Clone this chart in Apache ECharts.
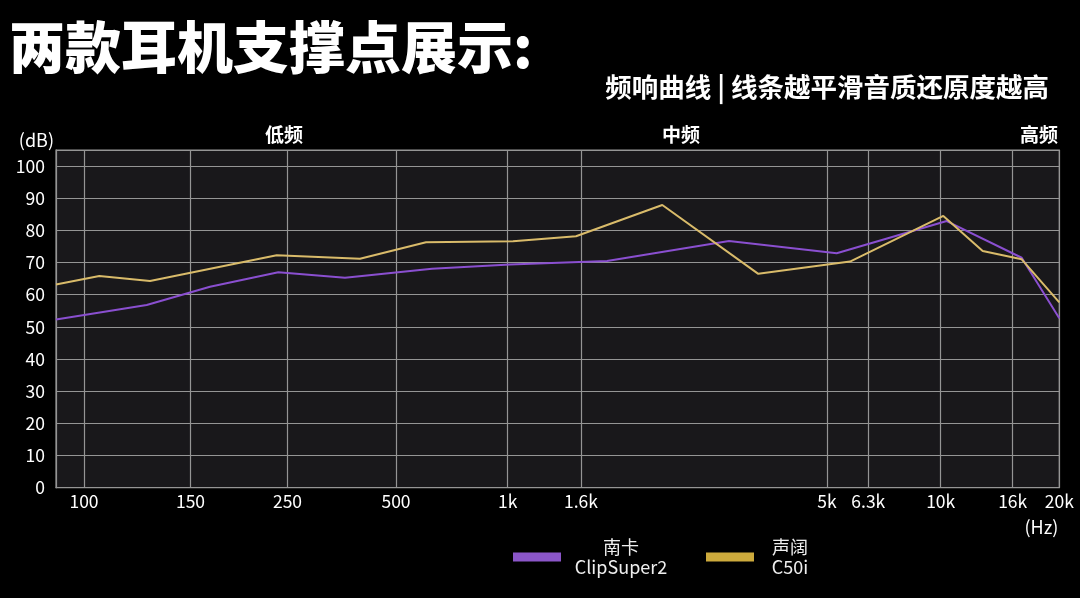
<!DOCTYPE html>
<html>
<head>
<meta charset="utf-8">
<script src="https://cdn.jsdelivr.net/npm/echarts@6/dist/echarts.min.js"></script>
<style>
  html, body { margin: 0; padding: 0; background: #000; }
  #chart { width: 1080px; height: 598px; }
</style>
</head>
<body>
<div id="chart"></div>
<script>
// ---- data ----
const xTickPos = [28, 134.5, 231.5, 340, 451.7, 525, 771, 812.3, 884.7, 956.7, 1003.3];
const xTickLabels = ['100', '150', '250', '500', '1k', '1.6k', '5k', '6.3k', '10k', '16k', '20k'];
const bandPos = [228, 625, 983];
const bandLabels = ['低频', '中频', '高频'];

const brands = ['南卡', '声阔'];
const models = ['ClipSuper2', 'C50i'];

const nankaX = [0, 90.7, 154, 222.3, 289, 376, 454, 551, 673, 780.7, 890.7, 965.7, 1003.3];
const nankaY = [52.3, 56.8, 62.5, 67.0, 65.3, 68.1, 69.4, 70.5, 76.7, 72.9, 82.9, 71.5, 52.7];
const shengkuoX = [0, 43.3, 94, 220.7, 304, 370, 457, 520, 606.3, 702.3, 794, 887.3, 926.7, 965.7, 1003.3];
const shengkuoY = [63.2, 65.8, 64.3, 72.3, 71.2, 76.3, 76.6, 78.2, 87.9, 66.5, 70.3, 84.5, 73.6, 71.0, 57.6];

// ---- chart ----
const FONT = '"Noto Sans CJK SC", "Noto Sans", sans-serif';
const lineColors = ['#8a4fd0', '#d9bb6a'];
const legendColors = ['#8b56c9', '#cdaa3c'];
const names = brands.map((b, i) => b + ' ' + models[i]);
const zip = (xs, ys) => xs.map((x, i) => [x, ys[i]]);

const chart = echarts.init(document.getElementById('chart'), null, { renderer: 'canvas' });
chart.setOption({
  backgroundColor: '#000',
  animation: false,
  textStyle: { fontFamily: FONT },
  title: [
    {
      text: '两款耳机支撑点展示:',
      left: 4, top: 14,
      textStyle: { color: '#fff', fontSize: 56, fontWeight: 900, fontFamily: FONT }
    },
    {
      text: '频响曲线 | 线条越平滑音质还原度越高',
      right: 26, top: 69,
      textStyle: { color: '#fff', fontSize: 26.5, fontWeight: 'bold', fontFamily: FONT }
    }
  ],
  legend: {
    left: 513, top: 538, padding: 0,
    icon: 'rect',
    itemWidth: 48, itemHeight: 9,
    itemGap: 30,
    data: names.map((n, i) => ({ name: n, itemStyle: { color: legendColors[i] } })),
    formatter: (name) => {
      const i = names.indexOf(name);
      const key = i === 0 ? 'a' : 'b';
      return '{' + key + '|' + brands[i] + '}\n{' + key + '|' + models[i] + '}';
    },
    textStyle: {
      color: '#eee', fontSize: 18, fontFamily: FONT,
      rich: {
        a: { width: 110, align: 'center', color: '#eee', fontSize: 18, lineHeight: 20, fontFamily: FONT },
        b: { width: 62, align: 'center', color: '#eee', fontSize: 18, lineHeight: 20, fontFamily: FONT }
      }
    }
  },
  grid: {
    left: 56, right: 20.7, top: 150, bottom: 110.3,
    show: true,
    backgroundColor: '#19181b',
    borderColor: '#959595', borderWidth: 1.2
  },
  xAxis: [
    {
      type: 'value', min: 0, max: 1003.3,
      name: '(Hz)', nameLocation: 'end', nameGap: 0,
      nameTextStyle: { color: '#fff', fontSize: 18, align: 'right', verticalAlign: 'top', padding: [30, 1, 0, 0], fontFamily: FONT },
      axisLine: { show: true, lineStyle: { color: '#959595', width: 1.2 } },
      axisTick: { show: false, customValues: xTickPos },
      axisLabel: {
        customValues: xTickPos,
        color: '#fff', fontSize: 17.5, margin: 5, fontFamily: FONT,
        formatter: (v) => {
          const i = xTickPos.indexOf(v);
          return i >= 0 ? xTickLabels[i] : '';
        }
      },
      splitLine: { show: true, lineStyle: { color: '#959595', width: 1.2 } }
    },
    {
      type: 'value', min: 0, max: 1003.3, position: 'top',
      axisLine: { show: false },
      axisTick: { show: false, customValues: bandPos },
      axisLabel: {
        customValues: bandPos,
        color: '#fff', fontSize: 19, fontWeight: 'bold', margin: 6, fontFamily: FONT,
        formatter: (v) => {
          const i = bandPos.indexOf(v);
          return i >= 0 ? bandLabels[i] : '';
        }
      },
      splitLine: { show: false }
    }
  ],
  yAxis: {
    type: 'value', min: 0, max: 105, interval: 10,
    name: '(dB)', nameLocation: 'end', nameGap: 1,
    nameTextStyle: { color: '#fff', fontSize: 18, align: 'right', padding: [0, 2, 0, 0], fontFamily: FONT },
    axisLine: { show: true, lineStyle: { color: '#959595', width: 1.2 } },
    axisTick: { show: false },
    axisLabel: {
      color: '#fff', fontSize: 17.5, margin: 11, fontFamily: FONT,
      formatter: (v) => (v > 100 ? '' : String(v))
    },
    splitLine: { show: true, lineStyle: { color: '#959595', width: 1.2 } }
  },
  series: [
    {
      name: names[0], type: 'line', xAxisIndex: 0,
      data: zip(nankaX, nankaY),
      symbol: 'none',
      lineStyle: { color: lineColors[0], width: 2 },
      itemStyle: { color: lineColors[0] }
    },
    {
      name: names[1], type: 'line', xAxisIndex: 0,
      data: zip(shengkuoX, shengkuoY),
      symbol: 'none',
      lineStyle: { color: lineColors[1], width: 2 },
      itemStyle: { color: lineColors[1] }
    }
  ]
});
</script>
</body>
</html>
